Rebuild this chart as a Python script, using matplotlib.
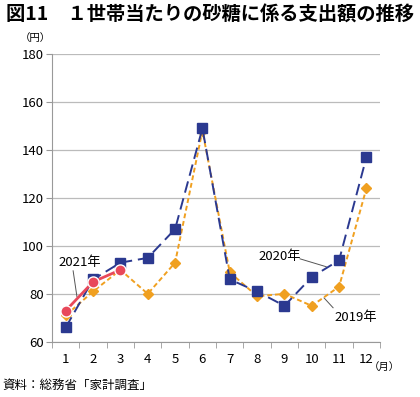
import matplotlib
matplotlib.use('Agg')
import matplotlib.pyplot as plt
import numpy as np

plt.rcParams['font.family'] = ['Noto Sans CJK JP', 'DejaVu Sans']

# Data
months = ['1', '2', '3', '4', '5', '6', '7', '8', '9', '10', '11', '12']
y2019 = [71, 81, 90, 80, 93, 148, 89, 79, 80, 75, 83, 124]
y2020 = [66, 86, 93, 95, 107, 149, 86, 81, 75, 87, 94, 137]
y2021 = [73, 85, 90]

x = np.arange(len(months))

fig = plt.figure(figsize=(4.2, 3.97), dpi=100)
ax = fig.add_axes([0.124, 0.139, 0.781, 0.725])

ax.plot(x, y2019, color='#F0A020', linestyle=(0, (2.5, 1.5)), linewidth=1.4,
        marker='D', markersize=5, zorder=3)
ax.plot(x, y2020, color='#2B3990', linestyle=(0, (6, 3)), linewidth=1.4,
        marker='s', markersize=7, zorder=4)
ax.plot(x[:len(y2021)], y2021, color='#E8485A', linewidth=2,
        marker='o', markersize=8, markeredgecolor='white', markeredgewidth=1, zorder=5)

ax.set_xlim(-0.5, 11.5)
ax.set_ylim(60, 180)
ax.set_yticks(range(60, 181, 20))
ax.set_xticks(x)
ax.set_xticklabels(months)
ax.set_xticks(np.arange(-0.5, 12, 1), minor=True)
ax.tick_params(axis='x', which='major', length=0, pad=8, labelsize=9.5)
ax.tick_params(axis='x', which='minor', length=4, color='#999999', direction='out')
ax.tick_params(axis='y', length=4, color='#999999', labelsize=9.5, pad=2)

ax.grid(axis='y', color='#BBBBBB', linewidth=0.9)
ax.set_axisbelow(True)
for s in ['top', 'right']:
    ax.spines[s].set_visible(False)
for s in ['left', 'bottom']:
    ax.spines[s].set_color('#999999')

# Labels with leader lines
ax.text(0.52, 93, '2021年', fontsize=9.5, ha='center', va='center')
ax.plot([0.27, 0.41], [89.6, 78.8], color='#555555', linewidth=0.7)
ax.text(7.84, 95.4, '2020年', fontsize=9.5, ha='center', va='center')
ax.plot([8.57, 9.53], [94.6, 91.3], color='#555555', linewidth=0.7)
ax.text(10.6, 70, '2019年', fontsize=9.5, ha='center', va='center')
ax.plot([9.45, 9.78], [78.3, 74.2], color='#555555', linewidth=0.7)

fig.text(0.5, 0.985, '図11　１世帯当たりの砂糖に係る支出額の推移',
         fontsize=13.9, fontweight='bold', ha='center', va='top')
fig.text(0.085, 0.905, '（円）', fontsize=7.5, ha='center', va='center')
fig.text(0.915, 0.075, '（月）', fontsize=7.5, ha='center', va='center')
fig.text(0.005, 0.03, '資料：総務省「家計調査」', fontsize=9, ha='left', va='center')

fig.savefig('out.png', dpi=100)
